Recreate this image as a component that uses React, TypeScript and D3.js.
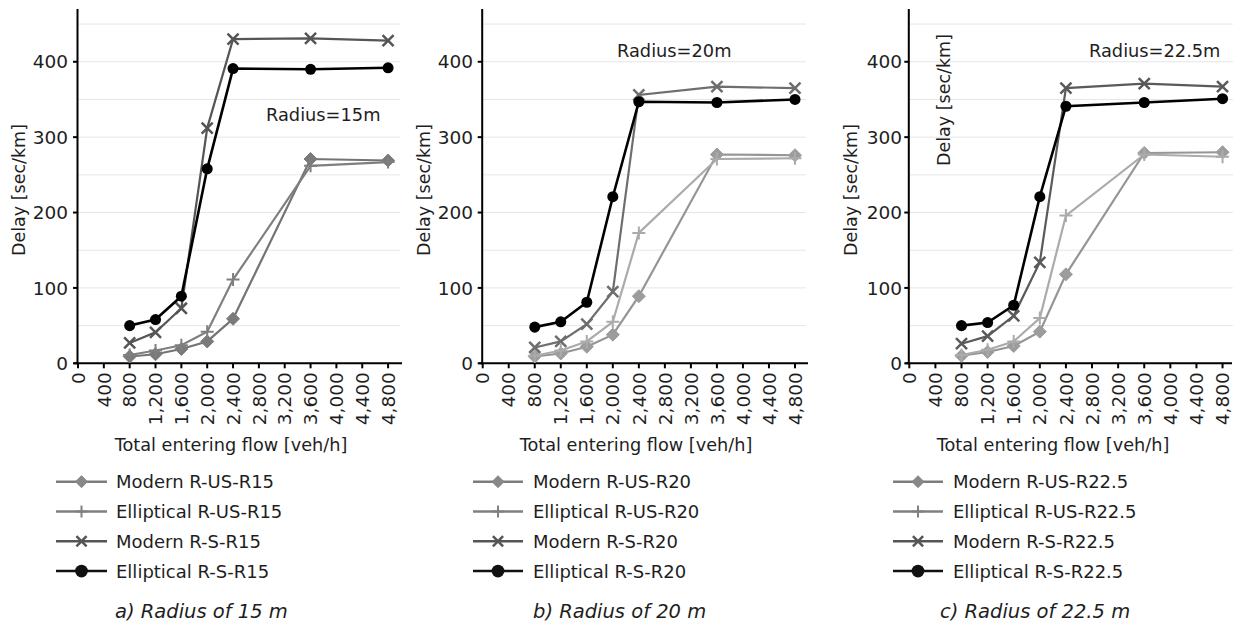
import React from "react";
import * as d3 from "d3";

// ---------- data ----------
const flows = [800, 1200, 1600, 2000, 2400, 3600, 4800];
const xTicks = [0, 400, 800, 1200, 1600, 2000, 2400, 2800, 3200, 3600, 4000, 4400, 4800];
const yTicks = [0, 100, 200, 300, 400];
const gridValues = [50, 100, 150, 200, 250, 300, 350, 400, 450];

const modernUS15 = [9, 12, 19, 29, 59, 271, 269];
const ellipUS15 = [11, 17, 24, 42, 111, 262, 267];
const modernS15 = [27, 41, 73, 312, 430, 431, 428];
const ellipS15 = [50, 58, 89, 258, 391, 390, 392];

const modernUS20 = [9, 13, 22, 38, 89, 277, 276];
const ellipUS20 = [10, 17, 29, 55, 173, 271, 272];
const modernS20 = [21, 29, 52, 95, 356, 367, 365];
const ellipS20 = [48, 55, 81, 221, 347, 346, 350];

const modernUS225 = [10, 15, 23, 42, 118, 279, 280];
const ellipUS225 = [11, 18, 29, 60, 196, 277, 274];
const modernS225 = [26, 36, 63, 134, 365, 371, 367];
const ellipS225 = [50, 54, 77, 221, 341, 346, 351];

const seriesNames15 = ["Modern R-US-R15", "Elliptical R-US-R15", "Modern R-S-R15", "Elliptical R-S-R15"];
const seriesNames20 = ["Modern R-US-R20", "Elliptical R-US-R20", "Modern R-S-R20", "Elliptical R-S-R20"];
const seriesNames225 = ["Modern R-US-R22.5", "Elliptical R-US-R22.5", "Modern R-S-R22.5", "Elliptical R-S-R22.5"];

const markerTypes = ["diamond", "plus", "times", "circle"];

const FONT = "'DejaVu Sans', Verdana, sans-serif";
const TXT = "#1e1e1e";

type Layout = {
  x0: number; x1: number; axisEnd: number; gridEnd: number;
  yLabelX: number; tickRight: number;
  radius: string; radiusX: number; radiusY: number;
  titleX: number; legLine0: number; legLine1: number; legText: number;
  caption: string; captionX: number; extraLabel?: { x: number; y: number };
  colors: string[]; markerFill: string[];
};

const Y0 = 363.3;
const YTOP = 9;
const legendColors = ["#7d7d7d", "#808080", "#555555", "#111111"];

function Marker({ type, x, y, color, fill, size }: any) {
  const s = size;
  if (type === "diamond") {
    return <path d={`M${x},${y - s}L${x + s},${y}L${x},${y + s}L${x - s},${y}Z`} fill={fill} stroke={fill} strokeWidth={1} />;
  }
  if (type === "plus") {
    return <path d={`M${x - s},${y}L${x + s},${y}M${x},${y - s}L${x},${y + s}`} stroke={color} strokeWidth={2} fill="none" />;
  }
  if (type === "times") {
    const t = s * 0.85;
    return <path d={`M${x - t},${y - t}L${x + t},${y + t}M${x - t},${y + t}L${x + t},${y - t}`} stroke={color} strokeWidth={2.5} fill="none" />;
  }
  return <circle cx={x} cy={y} r={s * 0.85} fill={color} />;
}

function Panel({ L, data, names }: { L: Layout; data: number[][]; names: string[] }) {
  const x = d3.scaleLinear().domain([0, 5000]).range([L.x0, L.x1]);
  const y = d3.scaleLinear().domain([0, 470]).range([Y0, YTOP]);
  const line = d3.line<number>().x((_, i) => x(flows[i])).y((v) => y(v));
  const legRows = [481.7, 511.5, 541.3, 571.1];
  const markerSize = [6.5, 6.5, 6.5, 6.5];
  return (
    <g>
      {gridValues.map((g) => (
        <line key={g} x1={L.x0} x2={L.gridEnd} y1={y(g)} y2={y(g)} stroke="#e6e6e6" strokeWidth={1} />
      ))}
      {/* axes */}
      <line x1={L.x0 - 0.5} x2={L.x0 - 0.5} y1={YTOP} y2={Y0 + 1} stroke="#000" strokeWidth={2} />
      <line x1={L.x0 - 4} x2={L.axisEnd} y1={Y0} y2={Y0} stroke="#000" strokeWidth={2} />
      {yTicks.map((t) => (
        <g key={t}>
          <line x1={L.x0 - 5} x2={L.x0} y1={y(t)} y2={y(t)} stroke="#000" strokeWidth={2} />
          <text x={L.tickRight} y={y(t)} dy="0.36em" textAnchor="end" fontSize={18.5} fontFamily={FONT} fill={TXT}>{t}</text>
        </g>
      ))}
      {xTicks.map((t) => (
        <g key={t}>
          <line x1={x(t)} x2={x(t)} y1={Y0} y2={Y0 + 5} stroke="#000" strokeWidth={2} />
          <text transform={`translate(${x(t)},${Y0 + 9}) rotate(-90)`} dy="0.36em" textAnchor="end" fontSize={18.5} fontFamily={FONT} fill={TXT}>
            {d3.format(",")(t)}
          </text>
        </g>
      ))}
      <text transform={`translate(${L.yLabelX},190) rotate(-90)`} dy="0.35em" textAnchor="middle" fontSize={17.5} fontFamily={FONT} fill={TXT}>Delay [sec/km]</text>
      {L.extraLabel && (
        <text transform={`translate(${L.extraLabel.x},${L.extraLabel.y}) rotate(-90)`} dy="0.35em" textAnchor="middle" fontSize={17.5} fontFamily={FONT} fill={TXT}>Delay [sec/km]</text>
      )}
      <text x={L.radiusX} y={L.radiusY} fontSize={17.8} fontFamily={FONT} fill={TXT}>{L.radius}</text>
      {/* series */}
      {data.map((vals, si) => (
        <g key={si}>
          <path d={line(vals) || ""} fill="none" stroke={L.colors[si]} strokeWidth={si === 3 ? 2.6 : 2.2} />
          {vals.map((v, i) => (
            <Marker key={i} type={markerTypes[si]} x={x(flows[i])} y={y(v)} color={L.colors[si]} fill={L.markerFill[si]} size={markerSize[si]} />
          ))}
        </g>
      ))}
      <text x={L.titleX} y={451} textAnchor="middle" fontSize={17.7} fontFamily={FONT} fill={TXT}>Total entering flow [veh/h]</text>
      {/* legend */}
      {names.map((n, i) => {
        const cy = legRows[i];
        const mx = (L.legLine0 + L.legLine1) / 2;
        return (
          <g key={n}>
            <line x1={L.legLine0} x2={L.legLine1} y1={cy} y2={cy} stroke={legendColors[i]} strokeWidth={2.5} />
            <Marker type={markerTypes[i]} x={mx} y={cy} color={legendColors[i]} fill={i === 0 ? "#888" : legendColors[i]} size={i === 3 ? 7.5 : 6} />
            <text x={L.legText} y={cy} dy="0.36em" fontSize={18} fontFamily={FONT} fill={TXT}>{n}</text>
          </g>
        );
      })}
      <text x={L.captionX} y={618} fontSize={19.5} fontStyle="italic" fontFamily={FONT} fill={TXT}>{L.caption}</text>
    </g>
  );
}

const layouts: Layout[] = [
  {
    x0: 78, x1: 401, axisEnd: 402, gridEnd: 400, yLabelX: 19, tickRight: 68,
    radius: "Radius=15m", radiusX: 266, radiusY: 121, titleX: 231,
    legLine0: 56, legLine1: 107, legText: 116, caption: "a) Radius of 15 m", captionX: 115,
    colors: ["#747474", "#7f7f7f", "#555555", "#000000"],
    markerFill: ["#7a7a7a", "#7f7f7f", "#555555", "#000000"],
  },
  {
    x0: 482.7, x1: 808, axisEnd: 808, gridEnd: 806, yLabelX: 424, tickRight: 473,
    radius: "Radius=20m", radiusX: 617, radiusY: 57, titleX: 636,
    legLine0: 473, legLine1: 523, legText: 533, caption: "b) Radius of 20 m", captionX: 533,
    colors: ["#959595", "#ababab", "#6e6e6e", "#000000"],
    markerFill: ["#9c9c9c", "#ababab", "#6e6e6e", "#000000"],
  },
  {
    x0: 909.3, x1: 1235.6, axisEnd: 1232, gridEnd: 1233, yLabelX: 851, tickRight: 902,
    radius: "Radius=22.5m", radiusX: 1089, radiusY: 57, titleX: 1053,
    legLine0: 893, legLine1: 943, legText: 953, caption: "c) Radius of 22.5 m", captionX: 940,
    extraLabel: { x: 944, y: 100 },
    colors: ["#959595", "#ababab", "#5a5a5a", "#000000"],
    markerFill: ["#9c9c9c", "#ababab", "#5a5a5a", "#000000"],
  },
];

export default function App() {
  const panelData = [
    [modernUS15, ellipUS15, modernS15, ellipS15],
    [modernUS20, ellipUS20, modernS20, ellipS20],
    [modernUS225, ellipUS225, modernS225, ellipS225],
  ];
  const panelNames = [seriesNames15, seriesNames20, seriesNames225];
  return (
    <svg width={1239} height={628} style={{ position: "absolute", left: 0, top: 0, background: "#fff" }}>
      <rect width={1239} height={628} fill="#fff" />
      {layouts.map((L, i) => (
        <Panel key={i} L={L} data={panelData[i]} names={panelNames[i]} />
      ))}
    </svg>
  );
}
